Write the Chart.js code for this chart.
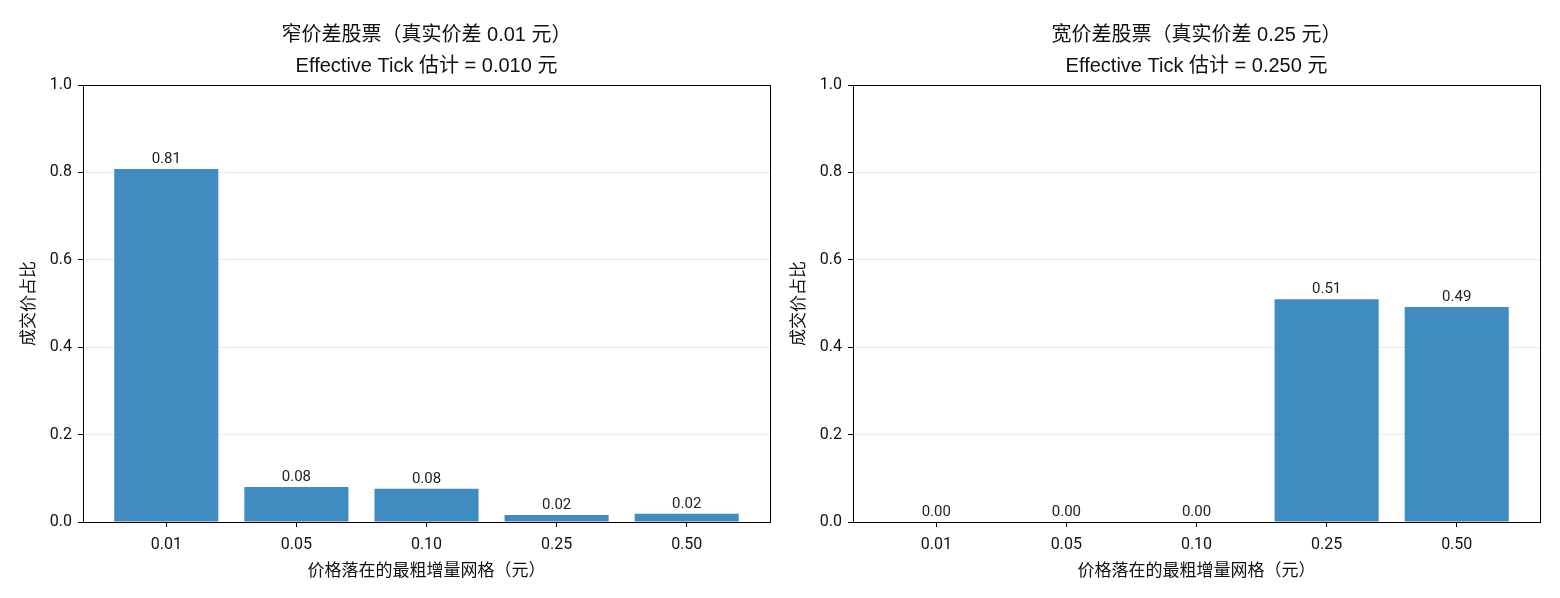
<!DOCTYPE html>
<html>
<head>
<meta charset="utf-8">
<script src="https://cdn.jsdelivr.net/npm/chart.js"></script>
<style>
    body { margin: 0; background: #fff; }
    .wrap { position: absolute; top: 0; width: 790px; height: 598px; }
</style>
</head>
<body>
<div class="wrap" style="left:0"><canvas id="narrow"></canvas></div>
<div class="wrap" style="left:770px"><canvas id="wide"></canvas></div>
<script>
// tick grids (元)
const grids = ['0.01', '0.05', '0.10', '0.25', '0.50'];
const yTicks = [0, 0.2, 0.4, 0.6, 0.8, 1.0];

// share of trade prices on each coarsest grid
const narrowShare = [0.808, 0.080, 0.076, 0.016, 0.019];
const wideShare = [0.0, 0.0, 0.0, 0.510, 0.492];

const narrowTitle = ['窄价差股票（真实价差 0.01 元）', 'Effective Tick 估计 = 0.010 元'];
const wideTitle = ['宽价差股票（真实价差 0.25 元）', 'Effective Tick 估计 = 0.250 元'];

const FONT = "Roboto, 'Noto Sans CJK SC', sans-serif";
const TITLE_FONT = "'Liberation Sans', 'Noto Sans CJK SC', sans-serif";
const BAR = 'rgba(31,119,180,0.85)';

// frame around the plot area
const framePlugin = {
    id: 'frame',
    afterDraw(chart) {
        const a = chart.chartArea;
        const ctx = chart.ctx;
        ctx.save();
        ctx.strokeStyle = '#000';
        ctx.lineWidth = 1;
        ctx.strokeRect(Math.round(a.left) + 0.5, Math.round(a.top) + 0.5,
            Math.round(a.right - a.left), Math.round(a.bottom - a.top));
        ctx.restore();
    }
};

// two-line title centred over the plot area (like matplotlib)
const axTitlePlugin = {
    id: 'axTitle',
    afterDraw(chart, args, opts) {
        const a = chart.chartArea;
        const ctx = chart.ctx;
        ctx.save();
        ctx.font = '20px ' + TITLE_FONT;
        ctx.fillStyle = '#111';
        ctx.textAlign = 'center';
        ctx.textBaseline = 'middle';
        const cx = (a.left + a.right) / 2;
        opts.lines.forEach((t, i) => ctx.fillText(t, cx, 35 + i * 31));
        ctx.restore();
    }
};

// value labels above bars
const valuePlugin = {
    id: 'values',
    afterDatasetsDraw(chart) {
        const ctx = chart.ctx;
        const meta = chart.getDatasetMeta(0);
        const data = chart.data.datasets[0].data;
        ctx.save();
        ctx.font = '15px ' + FONT;
        ctx.fillStyle = '#222';
        ctx.textAlign = 'center';
        ctx.textBaseline = 'bottom';
        meta.data.forEach((bar, i) => {
            ctx.fillText(data[i].y.toFixed(2), bar.x, bar.y - 2);
        });
        ctx.restore();
    }
};

function makeChart(id, shares, title) {
    new Chart(document.getElementById(id), {
        type: 'bar',
        data: {
            datasets: [{
                data: shares.map((v, i) => ({ x: i, y: v })),
                backgroundColor: BAR,
                borderWidth: 0,
                inflateAmount: 0,
                barPercentage: 0.8,
                categoryPercentage: 1.0
            }]
        },
        plugins: [framePlugin, valuePlugin, axTitlePlugin],
        options: {
            responsive: false,
            animation: false,
            devicePixelRatio: 1,
            layout: { padding: { left: 15, right: 20, top: 85, bottom: 6 } },
            plugins: {
                legend: { display: false },
                tooltip: { enabled: false },
                title: { display: false },
                axTitle: { lines: title }
            },
            scales: {
                x: {
                    type: 'linear',
                    offset: false,
                    min: -0.64,
                    max: 4.64,
                    afterBuildTicks(scale) {
                        scale.ticks = grids.map((g, i) => ({ value: i }));
                    },
                    afterFit(scale) { scale.height = 70; },
                    ticks: {
                        color: '#111',
                        font: { family: FONT, size: 16 },
                        padding: 8,
                        callback: (v) => grids[v]
                    },
                    grid: { offset: false, drawOnChartArea: false, tickLength: 5, tickColor: '#000' },
                    border: { color: '#000' },
                    title: {
                        display: true,
                        text: '价格落在的最粗增量网格（元）',
                        color: '#111',
                        font: { family: FONT, size: 17 },
                        padding: { top: 4, bottom: 10 }
                    }
                },
                y: {
                    min: 0,
                    max: 1,
                    afterBuildTicks(scale) {
                        scale.ticks = yTicks.map(v => ({ value: v }));
                    },
                    afterFit(scale) { scale.width = 68; },
                    ticks: {
                        color: '#111',
                        font: { family: FONT, size: 16 },
                        padding: 6,
                        callback: (v) => v.toFixed(1)
                    },
                    grid: { color: 'rgba(0,0,0,0.08)', tickLength: 5, tickColor: '#000' },
                    border: { color: '#000' },
                    title: {
                        display: true,
                        text: '成交价占比',
                        color: '#111',
                        font: { family: FONT, size: 17 },
                        padding: { top: 5, bottom: 4 }
                    }
                }
            }
        }
    });
}

document.getElementById('narrow').width = 790;
document.getElementById('narrow').height = 598;
document.getElementById('wide').width = 790;
document.getElementById('wide').height = 598;

makeChart('narrow', narrowShare, narrowTitle);
makeChart('wide', wideShare, wideTitle);
</script>
</body>
</html>
